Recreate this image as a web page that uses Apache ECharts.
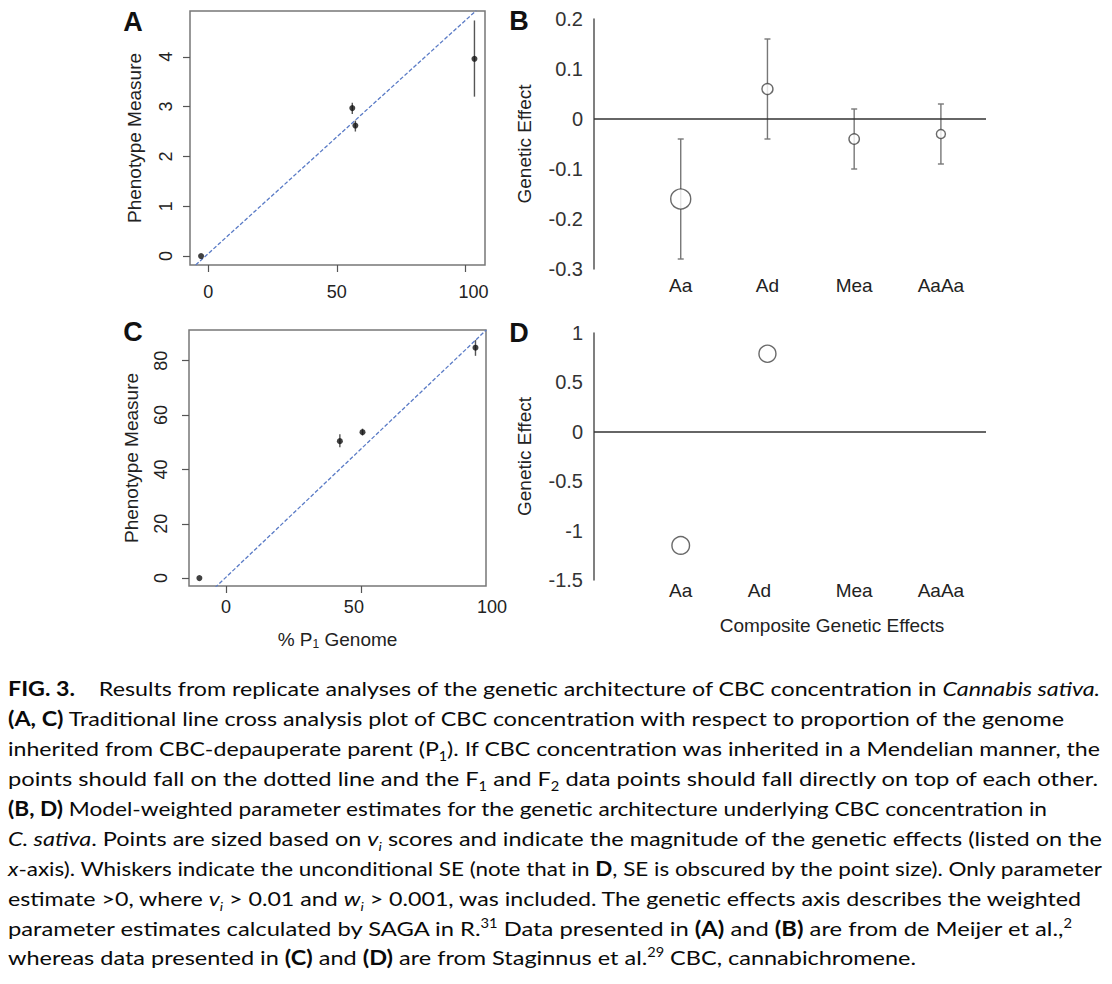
<!DOCTYPE html>
<html>
<head>
<meta charset="utf-8">
<style>
  html, body { margin: 0; padding: 0; background: #fff; }
  #main { position: absolute; left: 0; top: 0; width: 1112px; height: 660px; }
  .ln { position: absolute; left: 8px; display: inline-block; white-space: nowrap; line-height: 30px;
        font-family: Lato, 'Open Sans', sans-serif; font-size: 20px; color: #0a0a0a; transform-origin: 0 0; }
  .ln sub, .ln sup { font-size: 0.62em; line-height: 0; }
</style>
</head>
<body>
<div id="main"></div>
<div class="ln"><b>FIG. 3.</b>&nbsp;&nbsp;&nbsp; Results from replicate analyses of the genetic architecture of CBC concentration in <i>Cannabis sativa.</i></div>
<div class="ln"><b>(A, C)</b> Traditional line cross analysis plot of CBC concentration with respect to proportion of the genome</div>
<div class="ln">inherited from CBC-depauperate parent (P<sub>1</sub>). If CBC concentration was inherited in a Mendelian manner, the</div>
<div class="ln">points should fall on the dotted line and the F<sub>1</sub> and F<sub>2</sub> data points should fall directly on top of each other.</div>
<div class="ln"><b>(B, D)</b> Model-weighted parameter estimates for the genetic architecture underlying CBC concentration in</div>
<div class="ln"><i>C. sativa</i>. Points are sized based on <i>v<sub>i</sub></i> scores and indicate the magnitude of the genetic effects (listed on the</div>
<div class="ln"><i>x</i>-axis). Whiskers indicate the unconditional SE (note that in <b>D</b>, SE is obscured by the point size). Only parameter</div>
<div class="ln">estimate &gt;0, where <i>v<sub>i</sub></i> &gt; 0.01 and <i>w<sub>i</sub></i> &gt; 0.001, was included. The genetic effects axis describes the weighted</div>
<div class="ln">parameter estimates calculated by SAGA in R.<sup>31</sup> Data presented in <b>(A)</b> and <b>(B)</b> are from de Meijer et al.,<sup>2</sup></div>
<div class="ln">whereas data presented in <b>(C)</b> and <b>(D)</b> are from Staginnus et al.<sup>29</sup> CBC, cannabichromene.</div>
<script src="https://cdn.jsdelivr.net/npm/echarts@6/dist/echarts.min.js"></script>
<script>
// panel A: de Meijer et al. line cross means
var genomeA = [-2.8, 56.0, 57.2, 103.5];
var phenoA = [0.0, 2.97, 2.62, 3.96];
var lowA = [0.0, 2.85, 2.50, 3.20];
var highA = [0.0, 3.08, 2.72, 4.73];
var expectA = [[-4.9, -0.18], [104.2, 4.93]];

// panel C: Staginnus et al. line cross means
var genomeC = [-9.9, 42.2, 50.6, 92.5];
var phenoC = [0.0, 50.4, 53.7, 84.8];
var lowC = [0.0, 48.2, 52.5, 81.8];
var highC = [0.0, 52.9, 55.0, 87.6];
var expectC = [[-4.1, -3.5], [96.5, 91.3]];

// panels B, D: composite genetic effects
var effects = ['Aa', 'Ad', 'Mea', 'AaAa'];
var effectB = [-0.16, 0.06, -0.04, -0.03];
var seB = [0.12, 0.10, 0.06, 0.06];
var viB = [1.0, 0.55, 0.52, 0.45];
var effectD = [-1.15, 0.79];
var viD = [0.88, 0.85];

var FONT = 'Liberation Sans, Arial, sans-serif';
var INK = '#222';
var DOT = 20;   // symbol size for v_i = 1

var chart = echarts.init(document.getElementById('main'), null, { renderer: 'svg' });

function bars(color, cap) {
    return function (params, api) {
        var x = api.value(0);
        var lo = api.coord([x, api.value(1)]);
        var hi = api.coord([x, api.value(2)]);
        var style = { stroke: color, lineWidth: 1.4 };
        var kids = [{ type: 'line', shape: { x1: lo[0], y1: lo[1], x2: hi[0], y2: hi[1] }, style: style }];
        if (cap) {
            kids.push({ type: 'line', shape: { x1: lo[0] - cap, y1: lo[1], x2: lo[0] + cap, y2: lo[1] }, style: style });
            kids.push({ type: 'line', shape: { x1: hi[0] - cap, y1: hi[1], x2: hi[0] + cap, y2: hi[1] }, style: style });
        }
        return { type: 'group', children: kids };
    };
}

function genomeX(grid, min, max, ticks, margin, fmt, name) {
    return {
        gridIndex: grid, type: 'value', min: min, max: max,
        axisLine: { show: false, onZero: false }, splitLine: { show: false },
        axisTick: { inside: false, length: 7, customValues: ticks, lineStyle: { color: '#555', width: 1.2 } },
        axisLabel: { customValues: ticks, margin: margin, fontSize: 18, color: INK, fontFamily: FONT,
                     formatter: fmt, rich: { r: { padding: [0, 0, 0, 16] }, l: { padding: [0, 14, 0, 0] } } },
        name: name || '', nameLocation: 'middle', nameGap: 42,
        nameTextStyle: { fontSize: 19, color: INK, fontFamily: FONT,
                         rich: { t: { fontSize: 19, fontFamily: FONT, color: INK },
                                 s: { fontSize: 12, fontFamily: FONT, color: INK, padding: [10, 0, 0, 0] } } }
    };
}

function phenoY(grid, min, max, ticks, margin, gap) {
    return {
        gridIndex: grid, type: 'value', min: min, max: max,
        axisLine: { show: false, onZero: false }, splitLine: { show: false },
        axisTick: { inside: false, length: 7, customValues: ticks, lineStyle: { color: '#555', width: 1.2 } },
        axisLabel: { customValues: ticks, rotate: 90, margin: margin, fontSize: 18, color: INK, fontFamily: FONT },
        name: 'Phenotype Measure', nameLocation: 'middle', nameGap: gap,
        nameTextStyle: { fontSize: 19, color: INK, fontFamily: FONT }
    };
}

function effectX(grid, margin, fmt, name) {
    return {
        gridIndex: grid, type: 'value', min: 0, max: 4.52,
        axisLine: { show: false, onZero: false }, axisTick: { show: false }, splitLine: { show: false },
        axisLabel: { customValues: [1, 2, 3, 4], margin: margin, fontSize: 19, color: INK, fontFamily: FONT,
                     formatter: fmt, rich: { s: { padding: [0, 16, 0, 0] } } },
        name: name || '', nameLocation: 'middle', nameGap: 36,
        nameTextStyle: { fontSize: 19, color: INK, fontFamily: FONT, padding: [0, 0, 0, 84] }
    };
}

function effectY(grid, min, max, step) {
    return {
        gridIndex: grid, type: 'value', min: min, max: max, interval: step,
        axisLine: { show: true, onZero: false, lineStyle: { color: '#555', width: 1.5 } },
        axisTick: { show: false }, splitLine: { show: false },
        axisLabel: { margin: 11, fontSize: 20, color: '#333', fontFamily: FONT },
        name: 'Genetic Effect', nameLocation: 'middle', nameGap: 60,
        nameTextStyle: { fontSize: 19, color: INK, fontFamily: FONT }
    };
}

function zeroLine() {
    return { silent: true, symbol: 'none', label: { show: false },
             lineStyle: { color: '#333', type: 'solid', width: 1.5 }, data: [{ yAxis: 0 }] };
}

function circles(xi, vals, vi) {
    return {
        type: 'scatter', xAxisIndex: xi, yAxisIndex: xi, z: 5, silent: true,
        data: vals.map(function (v, i) { return [i + 1, v, vi[i]]; }),
        symbol: 'circle',
        symbolSize: function (val) { return DOT * val[2]; },
        itemStyle: { color: '#fff', borderColor: '#444', borderWidth: 1.4 },
        markLine: zeroLine()
    };
}

function panelLetter(txt, x, y) {
    return { type: 'text', x: x, y: y,
             style: { text: txt, font: 'bold 27px Liberation Sans, Arial, sans-serif', fill: '#111',
                      textAlign: 'center', textVerticalAlign: 'middle' } };
}

var box = { show: true, borderColor: '#777', borderWidth: 1.5, backgroundColor: 'transparent' };

chart.setOption({
    animation: false,
    grid: [
        Object.assign({ left: 190, top: 11, width: 295, height: 254 }, box),
        { left: 594, top: 19, width: 392, height: 250 },
        Object.assign({ left: 189, top: 330, width: 297, height: 256 }, box),
        { left: 594, top: 333, width: 392, height: 247 }
    ],
    xAxis: [
        genomeX(0, -7.1, 107.6, [0, 50, 100], 18, function (v) { return v === 100 ? '{r|100}' : String(v); }),
        effectX(1, 7, function (v) { return effects[v - 1]; }),
        genomeX(2, -13.75, 96.4, [0, 50], 12, function (v) { return v === 50 ? '{l|50}' : String(v); },
                '{t|% P}{s|1}{t| Genome}'),
        effectX(3, 1, function (v) { return v === 2 ? '{s|Ad}' : effects[v - 1]; }, 'Composite Genetic Effects')
    ],
    yAxis: [
        phenoY(0, -0.18, 4.92, [0, 1, 2, 3, 4], 15, 46),
        effectY(1, -0.3, 0.2, 0.1),
        phenoY(2, -2.9, 91.3, [0, 20, 40, 60, 80], 19, 48),
        effectY(3, -1.5, 1, 0.5)
    ],
    graphic: [
        panelLetter('A', 133, 22),
        panelLetter('B', 519, 21),
        panelLetter('C', 133, 332),
        panelLetter('D', 519, 333),
        { type: 'text', x: 492, y: 607,
          style: { text: '100', font: '18px Liberation Sans, Arial, sans-serif', fill: INK,
                   textAlign: 'center', textVerticalAlign: 'middle' } }
    ],
    series: [
        // A
        { type: 'line', xAxisIndex: 0, yAxisIndex: 0, data: expectA, symbol: 'none', silent: true, z: 1,
          lineStyle: { color: '#5a7bc6', width: 1.3, type: [4, 2] } },
        { type: 'custom', xAxisIndex: 0, yAxisIndex: 0, silent: true, z: 2,
          data: genomeA.map(function (x, i) { return [x, lowA[i], highA[i]]; }),
          renderItem: bars('#555', 0) },
        { type: 'scatter', xAxisIndex: 0, yAxisIndex: 0, silent: true, z: 3, symbolSize: 6,
          itemStyle: { color: '#111' },
          data: genomeA.map(function (x, i) { return [x, phenoA[i]]; }) },
        // B
        { type: 'custom', xAxisIndex: 1, yAxisIndex: 1, silent: true, z: 2,
          data: effectB.map(function (v, i) { return [i + 1, v - seB[i], v + seB[i]]; }),
          renderItem: bars('#777', 3) },
        circles(1, effectB, viB),
        // C
        { type: 'line', xAxisIndex: 2, yAxisIndex: 2, data: expectC, symbol: 'none', silent: true, z: 1,
          lineStyle: { color: '#5a7bc6', width: 1.3, type: [4, 2] } },
        { type: 'custom', xAxisIndex: 2, yAxisIndex: 2, silent: true, z: 2,
          data: genomeC.map(function (x, i) { return [x, lowC[i], highC[i]]; }),
          renderItem: bars('#555', 0) },
        { type: 'scatter', xAxisIndex: 2, yAxisIndex: 2, silent: true, z: 3, symbolSize: 6,
          itemStyle: { color: '#111' },
          data: genomeC.map(function (x, i) { return [x, phenoC[i]]; }) },
        // D
        circles(3, effectD, viD)
    ]
});

// caption: one div per printed line, stretched to the printed width
var captionBaseline = 696;
var captionStep = 29.9;
var captionRight = [1100, 1064, 1100, 1098, 1047, 1102, 1102, 1081, 1072, 916];

function fitCaption() {
    var lines = document.querySelectorAll('.ln');
    for (var i = 0; i < lines.length; i++) {
        var el = lines[i];
        el.style.top = (captionBaseline + i * captionStep - 22.7) + 'px';
        el.style.transform = 'none';
        var w = el.getBoundingClientRect().width;
        el.style.transform = 'scaleX(' + ((captionRight[i] - 8) / w) + ')';
    }
}
fitCaption();
if (document.fonts && document.fonts.ready) { document.fonts.ready.then(fitCaption); }

window.onresize = chart.resize;
</script>
</body>
</html>
